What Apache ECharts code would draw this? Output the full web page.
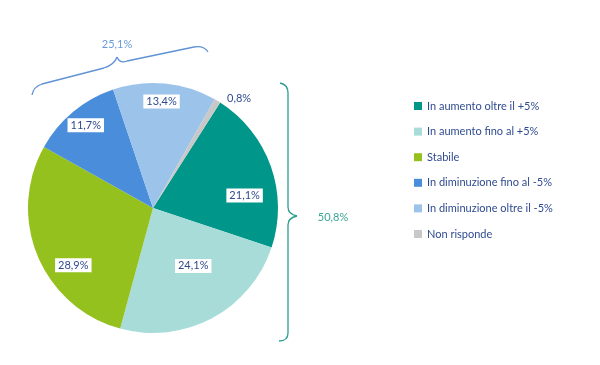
<!DOCTYPE html>
<html>
<head>
<meta charset="utf-8">
<script src="https://cdn.jsdelivr.net/npm/echarts/dist/echarts.min.js"></script>
<style>html,body{margin:0;padding:0;background:#fff}#c{width:600px;height:365px}</style>
</head>
<body>
<div id="c"></div>
<script>
// ---- data ----
var categories = ['In aumento oltre il +5%', 'In aumento fino al +5%', 'Stabile', 'In diminuzione fino al -5%', 'In diminuzione oltre il -5%', 'Non risponde'];
var values = [21.1, 24.1, 28.9, 11.7, 13.4, 0.8];
var groupLabels = ['25,1%', '50,8%'];

// ---- styles ----
var colors = ['#00968a', '#a7dcd8', '#95c11f', '#4a8edb', '#9cc3ea', '#c8c8c8'];
var textColor = '#2f4b8f';
var font = 'Lato, "Liberation Sans", sans-serif';
var center = [153, 208];
var R = 125;
var startAngle = 57.5;
// label rings: which slice labels sit at which radial band (inner radius of transparent band)
var labelRings = [
  {r0: 57, items: [0, 2]},
  {r0: 14, items: [1]},
  {r0: 89, items: [3, 4]}
];
// small label nudges (px) mimicking the original's best-fit placement
var labelNudge = [[3, 19], [6, -6], [7, 21], [3, 2], [-2, 3], [0, 0]];

function fmt(v) { return v.toFixed(1).replace('.', ',') + '%'; }

var baseLabel = {
  color: textColor, fontSize: 11, fontFamily: font,
  backgroundColor: '#ffffff', padding: [2, 3, 1, 3],
  formatter: function (p) { return fmt(p.value); }
};

var mainData = categories.map(function (n, i) {
  var d = {name: n, value: values[i], itemStyle: {color: colors[i]}};
  if (i === 5) {
    d.label = {show: true, position: 'outside'};
  } else {
    d.label = {show: false};
  }
  return d;
});

var series = [{
  type: 'pie',
  center: center,
  radius: R,
  startAngle: startAngle,
  clockwise: true,
  avoidLabelOverlap: false,
  emphasis: {scale: false},
  itemStyle: {borderWidth: 0},
  label: Object.assign({}, baseLabel, {backgroundColor: 'transparent'}),
  labelLine: {show: false, length: 3, length2: 0},
  data: mainData
}];

labelRings.forEach(function (ring) {
  series.push({
    type: 'pie',
    center: center,
    radius: [ring.r0, R],
    startAngle: startAngle,
    clockwise: true,
    silent: true,
    z: 3,
    emphasis: {disabled: true},
    itemStyle: {color: 'transparent', borderWidth: 0},
    label: Object.assign({}, baseLabel, {position: 'inside'}),
    labelLine: {show: false},
    labelLayout: function (p) {
      var n = labelNudge[p.dataIndex];
      return {dx: n[0], dy: n[1]};
    },
    data: categories.map(function (n, i) {
      return {name: n, value: values[i], label: {show: ring.items.indexOf(i) >= 0}};
    })
  });
});

// brace annotation geometry (decorative)
function brace(segs, color) {
  return segs.map(function (s) {
    if (s.length === 4) {
      return {type: 'line', shape: {x1: s[0], y1: s[1], x2: s[2], y2: s[3]},
        style: {stroke: color, lineWidth: 1.3}, z: 10};
    }
    return {type: 'bezierCurve', shape: {x1: s[0], y1: s[1], cpx1: s[2], cpy1: s[3], cpx2: s[4], cpy2: s[5], x2: s[6], y2: s[7]},
      style: {stroke: color, fill: null, lineWidth: 1.3}, z: 10};
  });
}
var topBrace = brace([
  [32, 95, 33, 89, 36, 86, 42, 84],
  [42, 84, 104, 68],
  [104, 68, 110, 66, 115, 63, 117, 57],
  [117, 57, 119, 62, 122, 63, 127, 61],
  [127, 61, 194, 47],
  [194, 47, 200, 46, 205, 47, 208, 52]
], '#5f92d6');
var rightBrace = brace([
  [280, 83, 285, 84, 288, 87, 288, 93],
  [288, 93, 288, 207],
  [288, 207, 288, 212, 292, 215, 297, 216],
  [297, 216, 292, 217, 288, 220, 288, 225],
  [288, 225, 288, 333],
  [288, 333, 288, 338, 285, 341, 279, 341]
], '#2a9e90');

var graphics = topBrace.concat(rightBrace).concat([
  {
    type: 'text', x: 117, y: 44, z: 10,
    style: {text: groupLabels[0], fill: '#6a9ad8', fontSize: 11, fontFamily: font, align: 'center', verticalAlign: 'middle'}
  },
  {
    type: 'text', x: 333, y: 217, z: 10,
    style: {text: groupLabels[1], fill: '#3aa597', fontSize: 11, fontFamily: font, align: 'center', verticalAlign: 'middle'}
  }
]);

var chart = echarts.init(document.getElementById('c'), null, {renderer: 'canvas'});
chart.setOption({
  animation: false,
  backgroundColor: '#ffffff',
  color: colors,
  legend: {
    orient: 'vertical',
    left: 414,
    top: 99,
    padding: 0,
    icon: 'rect',
    itemWidth: 8,
    itemHeight: 8,
    itemGap: 11.6,
    selectedMode: false,
    data: categories,
    textStyle: {color: textColor, fontSize: 11, fontFamily: font, lineHeight: 14}
  },
  graphic: graphics,
  series: series
});
</script>
</body>
</html>
